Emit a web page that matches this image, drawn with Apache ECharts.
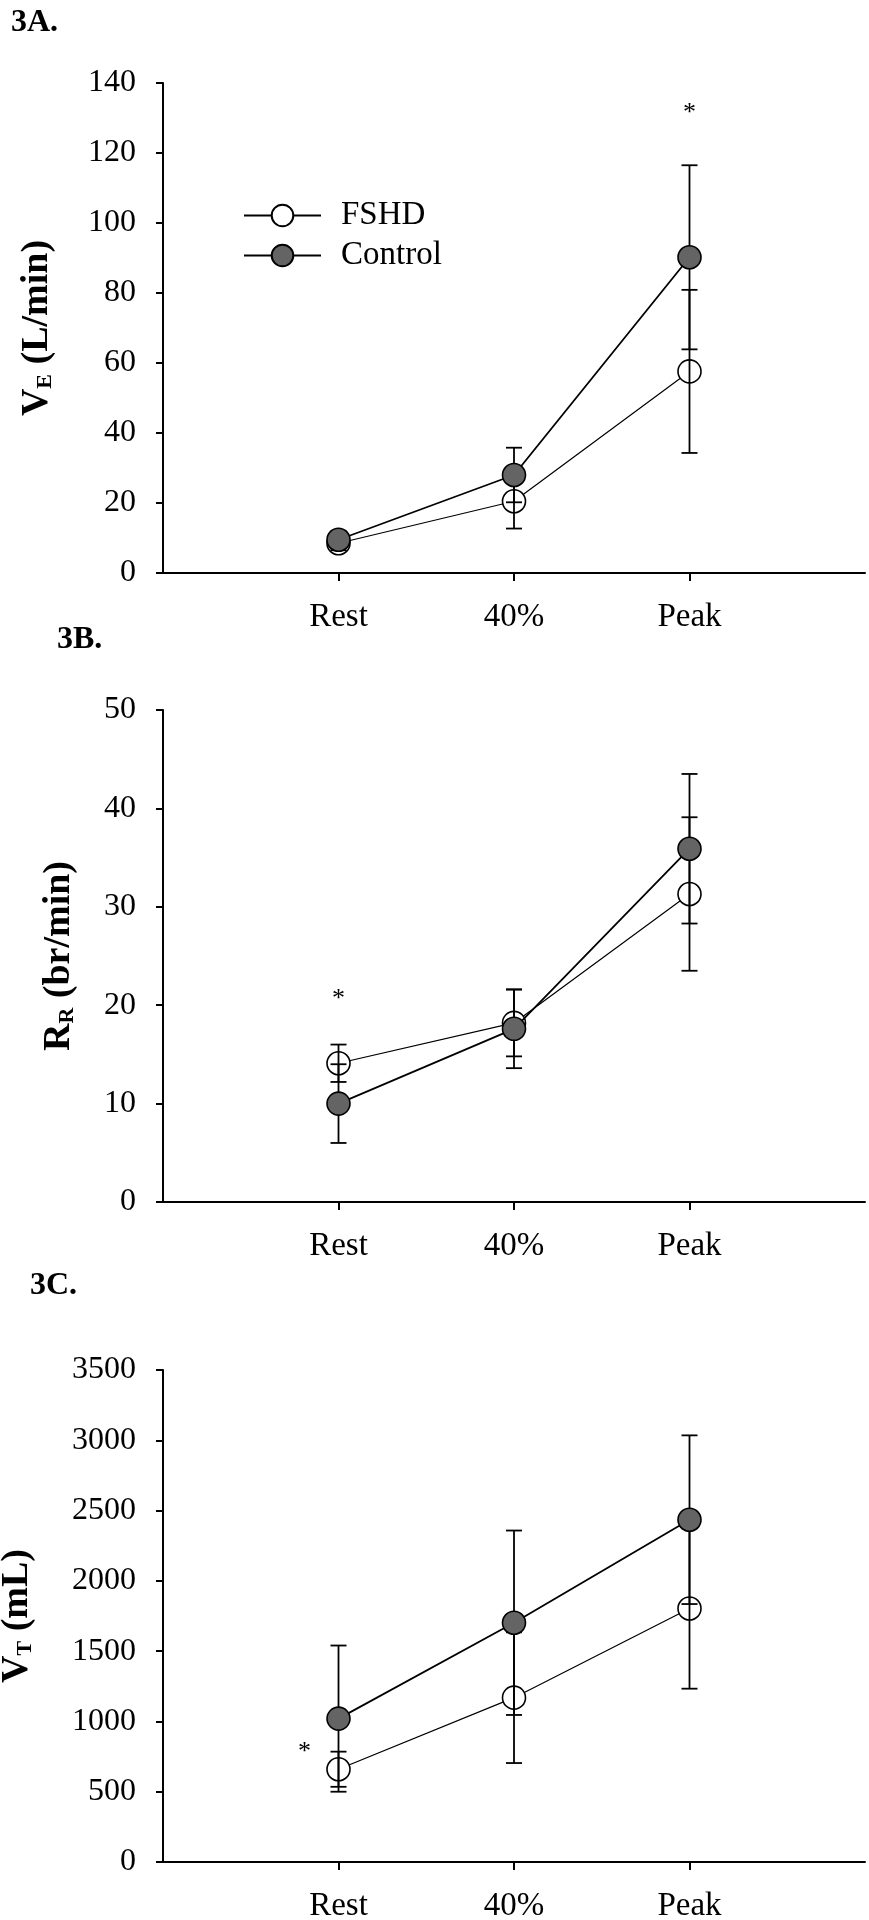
<!DOCTYPE html>
<html><head><meta charset="utf-8">
<script src="https://cdn.jsdelivr.net/npm/echarts@6/dist/echarts.min.js"></script>
<style>html,body{margin:0;padding:0;background:#fff}#c{width:869px;height:1920px}</style>
</head><body><div id="c"></div>
<script>
// ---- data ----
const categories = ['Rest', '40%', 'Peak'];
const seriesNames = ['FSHD', 'Control'];

// 3A  VE (L/min)
const veFshd = [8.5, 20.5, 57.6];
const veFshdSd = [2, 7.8, 23.3];
const veControl = [9.5, 28, 90.2];
const veControlSd = [2.5, 7.8, 26.3];
const veAxis = [0, 140, 20];          // min, max, step
const veStar = ['Peak', 132.5];

// 3B  RR (br/min)
const rrFshd = [14.1, 18.2, 31.3];
const rrFshdSd = [1.9, 3.4, 7.8];
const rrControl = [10, 17.6, 35.9];
const rrControlSd = [4, 4.0, 7.6];
const rrAxis = [0, 50, 10];
const rrStar = ['Rest', 21];

// 3C  VT (mL)
const vtFshd = [660, 1169, 1803];
const vtFshdSd = [125, 465, 570];
const vtControl = [1020, 1702, 2435];
const vtControlSd = [520, 656, 600];
const vtAxis = [0, 3500, 500];
const vtStar = ['Rest', 810];

const panelLabels = ['3A.', '3B.', '3C.'];
const axisNames = [
  '{m|V}{s|E}{m| (L/min)}',
  '{m|R}{s|R}{m| (br/min)}',
  '{m|V}{s|T}{m| (mL)}'
];

// ---- styling ----
const FONT = '"Liberation Serif", "Times New Roman", serif';
const xCats = [' ', ...categories, '  '];
const gridTops = [83, 710, 1370];
const gridHeights = [490, 492, 492];
const nameGaps = [107, 85, 127];
const starOffsets = [0, 0, -34];
const panelLabelPos = [[11, 7], [57, 624], [30, 1270]];

const panels = [
  {f: veFshd, fs: veFshdSd, c: veControl, cs: veControlSd, ax: veAxis, star: veStar},
  {f: rrFshd, fs: rrFshdSd, c: rrControl, cs: rrControlSd, ax: rrAxis, star: rrStar},
  {f: vtFshd, fs: vtFshdSd, c: vtControl, cs: vtControlSd, ax: vtAxis, star: vtStar}
];

function errRender(params, api) {
  const x = api.value(0), lo = api.value(1), hi = api.value(2);
  const p1 = api.coord([x, lo]), p2 = api.coord([x, hi]);
  const w = 8;
  const style = {stroke: '#000', lineWidth: 1.8};
  return {type: 'group', children: [
    {type: 'line', shape: {x1: p1[0], y1: p1[1], x2: p2[0], y2: p2[1]}, style},
    {type: 'line', shape: {x1: p1[0] - w, y1: p1[1], x2: p1[0] + w, y2: p1[1]}, style},
    {type: 'line', shape: {x1: p2[0] - w, y1: p2[1], x2: p2[0] + w, y2: p2[1]}, style}
  ]};
}

const grid = [], xAxis = [], yAxis = [], series = [];
panels.forEach((p, k) => {
  grid.push({left: 163, right: 4, top: gridTops[k], height: gridHeights[k], outerBoundsMode: 'none', containLabel: false});
  xAxis.push({
    gridIndex: k, type: 'category', data: xCats, boundaryGap: false,
    axisLine: {show: true, lineStyle: {color: '#000', width: 2}},
    axisTick: {show: true, length: 8, lineStyle: {color: '#000', width: 2},
      interval: (i, v) => v.trim() !== ''},
    axisLabel: {interval: 0, margin: 28, fontSize: 33, fontFamily: FONT, color: '#000'},
    splitLine: {show: false}
  });
  yAxis.push({
    gridIndex: k, type: 'value', min: p.ax[0], max: p.ax[1], interval: p.ax[2],
    axisLine: {show: true, lineStyle: {color: '#000', width: 2}},
    axisTick: {show: true, length: 7, lineStyle: {color: '#000', width: 2}},
    axisLabel: {margin: 27, fontSize: 32, fontFamily: FONT, color: '#000', formatter: v => String(v)},
    splitLine: {show: false},
    name: axisNames[k], nameLocation: 'middle', nameRotate: 90, nameGap: nameGaps[k],
    nameTextStyle: {
      color: '#000', fontFamily: FONT, fontWeight: 'bold', fontSize: 38,
      rich: {
        m: {fontFamily: FONT, fontWeight: 'bold', fontSize: 38, color: '#000', verticalAlign: 'bottom'},
        s: {fontFamily: FONT, fontWeight: 'bold', fontSize: 22, color: '#000', verticalAlign: 'bottom'}
      }
    }
  });
  series.push({
    name: seriesNames[0], type: 'line', xAxisIndex: k, yAxisIndex: k, z: 2,
    data: categories.map((c, i) => [c, p.f[i]]),
    symbol: 'circle', symbolSize: 23, showSymbol: true,
    lineStyle: {color: '#000', width: 1.2},
    itemStyle: {color: '#fff', borderColor: '#000', borderWidth: 1.6}
  });
  series.push({
    name: 'err', type: 'custom', xAxisIndex: k, yAxisIndex: k, z: 3,
    renderItem: errRender, encode: {x: 0, y: [1, 2]},
    data: categories.map((c, i) => [c, p.f[i] - p.fs[i], p.f[i] + p.fs[i]])
      .concat(categories.map((c, i) => [c, p.c[i] - p.cs[i], p.c[i] + p.cs[i]]))
  });
  series.push({
    name: seriesNames[1], type: 'line', xAxisIndex: k, yAxisIndex: k, z: 4,
    data: categories.map((c, i) => [c, p.c[i]]),
    symbol: 'circle', symbolSize: 23, showSymbol: true,
    lineStyle: {color: '#000', width: 1.8},
    itemStyle: {color: '#646464', borderColor: '#000', borderWidth: 1.6}
  });
  const dx = starOffsets[k];
  series.push({
    name: 'star', type: 'custom', xAxisIndex: k, yAxisIndex: k, z: 5,
    encode: {x: 0, y: 1},
    data: [p.star],
    renderItem: (params, api) => {
      const pt = api.coord([api.value(0), api.value(1)]);
      return {type: 'text', x: pt[0] + dx, y: pt[1] + 4,
        style: {text: '*', font: '26px ' + FONT, fill: '#000', align: 'center', verticalAlign: 'middle'}};
    }
  });
});

const chart = echarts.init(document.getElementById('c'), null, {renderer: 'canvas'});
chart.setOption({
  animation: false,
  backgroundColor: '#fff',
  grid, xAxis, yAxis, series,
  legend: {
    data: seriesNames, orient: 'vertical', left: 243, top: 199, padding: 0,
    itemWidth: 77, itemHeight: 27, itemGap: 7,
    textStyle: {fontSize: 33, fontFamily: FONT, color: '#000', padding: [0, 0, 0, 15]}
  },
  graphic: panelLabels.map((t, k) => ({
    type: 'text', left: panelLabelPos[k][0], top: panelLabelPos[k][1],
    style: {text: t, font: 'bold 32px ' + FONT, fill: '#000'}
  }))
});
</script></body></html>
